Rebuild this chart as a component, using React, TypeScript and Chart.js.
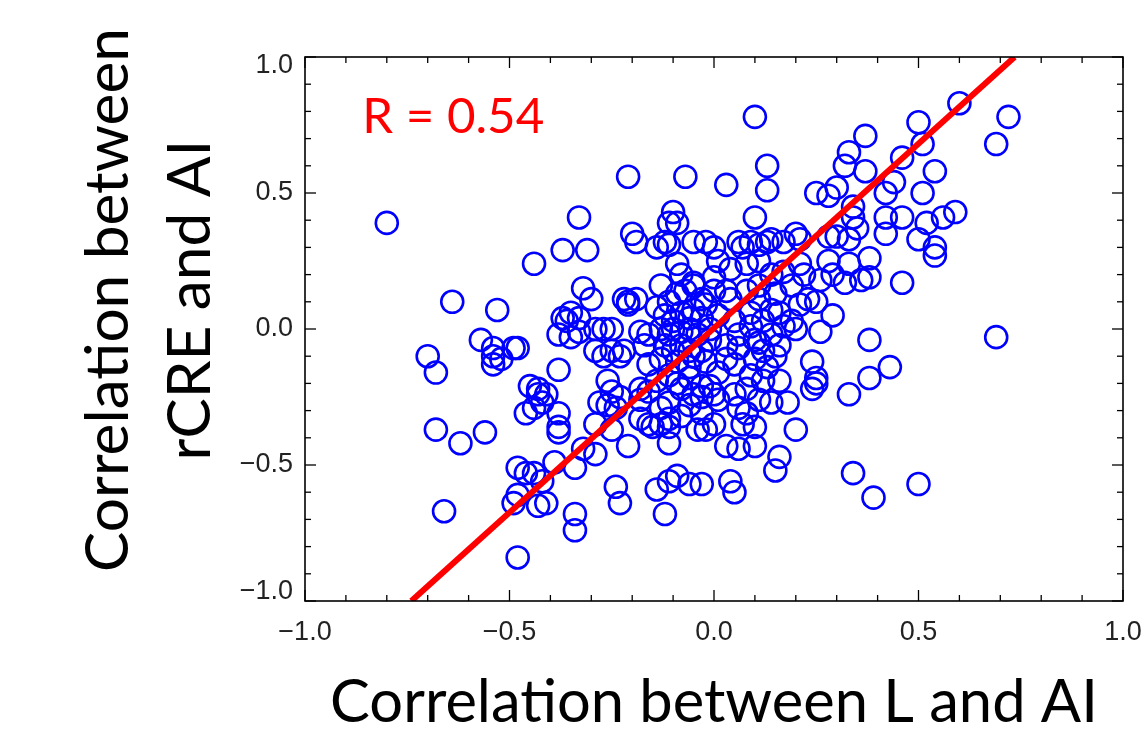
import React, { useEffect, useRef } from 'react';
import { Chart, registerables } from 'chart.js';

Chart.register(...registerables);

// ---- data ----
const xValues: number[] = [
  -0.80, -0.64, -0.53, -0.57, -0.54, -0.54, -0.54, -0.52, -0.49, -0.48,
  -0.70, -0.68, -0.45, -0.46, -0.44, -0.68, -0.62, -0.56, -0.48, -0.46,
  -0.48, -0.49, -0.66, -0.48, -0.44, -0.21, -0.07, -0.33, -0.10, -0.11,
  -0.09, -0.20, -0.19, -0.12, -0.14, -0.11, -0.37, -0.31, -0.05, -0.32,
  -0.30, -0.37, -0.35, -0.33, -0.36, -0.38, -0.35, -0.33, -0.22, -0.21,
  -0.19, -0.21, -0.29, -0.27, -0.25, -0.29, -0.27, -0.25, -0.23, -0.22,
  -0.18, -0.16, -0.17, -0.38, -0.43, -0.43, -0.41, -0.42, -0.38, -0.26,
  -0.25, -0.28, -0.26, -0.23, -0.24, -0.18, -0.16, -0.14, -0.14, -0.11,
  -0.09, -0.38, -0.38, -0.29, -0.25, -0.21, -0.18, -0.16, -0.15, -0.13,
  -0.11, -0.11, -0.11, -0.04, -0.32, -0.29, -0.39, -0.34, -0.44, -0.42,
  -0.43, -0.41, -0.34, -0.34, -0.24, -0.23, -0.14, -0.11, -0.09, -0.06,
  -0.12, -0.12, -0.10, -0.08, -0.06, -0.05, -0.13, -0.11, -0.10, -0.08,
  -0.06, -0.04, -0.12, -0.10, -0.08, -0.06, -0.05, -0.09, -0.06, -0.13,
  -0.16, -0.07, -0.05, -0.03, -0.13, -0.09, -0.08, -0.05, -0.13, -0.11,
  -0.18, -0.05, -0.08, -0.06, -0.03, -0.11, -0.09, 0.10, 0.13, 0.13,
  0.03, 0.10, 0.25, 0.28, 0.30, 0.33, 0.32, 0.37, 0.37, 0.34,
  0.34, 0.35, -0.02, 0.00, 0.06, 0.07, 0.09, 0.11, 0.13, 0.14,
  0.17, 0.20, 0.21, 0.28, 0.30, 0.33, 0.60, 0.72, 0.69, 0.50,
  0.51, 0.46, 0.54, 0.44, 0.51, 0.42, 0.42, 0.46, 0.52, 0.56,
  0.59, 0.42, 0.50, 0.54, 0.54, 0.38, 0.46, 0.38, 0.69, 0.38,
  0.43, 0.38, 0.50, 0.39, 0.36, 0.29, 0.20, 0.26, 0.24, 0.25,
  0.25, 0.24, 0.33, 0.18, 0.11, 0.14, 0.06, 0.08, 0.05, 0.08,
  0.00, -0.03, 0.32, 0.29, 0.23, 0.25, 0.33, 0.28, 0.21, 0.17,
  0.19, 0.14, 0.11, 0.08, 0.04, 0.01, 0.15, 0.11, 0.08, 0.04,
  0.00, -0.02, 0.01, 0.05, 0.09, 0.12, 0.16, 0.19, 0.14, 0.10,
  0.06, 0.03, -0.01, 0.12, 0.16, 0.10, 0.13, 0.09, 0.05, 0.01,
  -0.02, 0.12, 0.16, 0.11, 0.15, 0.06, 0.03, -0.03, -0.01, -0.03,
  0.00, 0.03, 0.11, 0.21, 0.22, 0.26, 0.14, 0.17, 0.09, 0.20,
  -0.02, 0.00, 0.03, 0.06, 0.07, 0.10, 0.10, 0.16, 0.15, 0.04,
  0.05, -0.03, 0.34, -0.06, -0.08, -0.03, 0.01, -0.01,
];

const yValues: number[] = [
  0.39, 0.10, 0.07, -0.04, -0.07, -0.10, -0.13, -0.11, -0.07, -0.07,
  -0.10, -0.16, -0.21, -0.31, -0.29, -0.37, -0.42, -0.38, -0.51, -0.53,
  -0.61, -0.64, -0.67, -0.84, 0.24, 0.56, 0.56, 0.41, 0.43, 0.39,
  0.39, 0.35, 0.32, 0.32, 0.30, 0.31, 0.29, 0.29, 0.32, 0.15,
  0.11, 0.04, 0.06, 0.04, 0.03, -0.02, -0.03, -0.01, 0.11, 0.10,
  0.11, 0.09, 0.00, 0.00, 0.00, -0.08, -0.10, -0.08, -0.10, -0.08,
  -0.01, -0.02, -0.06, -0.15, -0.22, -0.24, -0.24, -0.27, -0.31, -0.19,
  -0.23, -0.27, -0.28, -0.25, -0.29, -0.22, -0.23, -0.19, 0.08, 0.10,
  0.13, -0.38, -0.36, -0.35, -0.37, -0.43, -0.33, -0.35, -0.36, -0.35,
  -0.36, -0.33, -0.42, -0.37, -0.44, -0.46, -0.49, -0.51, -0.53, -0.56,
  -0.65, -0.64, -0.68, -0.74, -0.58, -0.64, -0.59, -0.56, -0.54, -0.57,
  -0.68, 0.05, 0.03, 0.06, 0.04, 0.07, 0.00, -0.02, 0.00, -0.01,
  0.00, -0.02, -0.06, -0.08, -0.06, -0.08, -0.10, -0.12, -0.14, -0.11,
  -0.13, 0.14, 0.16, 0.11, 0.16, 0.24, 0.20, 0.17, -0.29, -0.27,
  -0.26, -0.24, -0.22, -0.18, -0.21, -0.17, -0.20, 0.78, 0.60, 0.51,
  0.53, 0.41, 0.50, 0.49, 0.52, 0.65, 0.60, 0.71, 0.58, 0.45,
  0.41, 0.37, 0.32, 0.30, 0.32, 0.30, 0.32, 0.31, 0.32, 0.33,
  0.32, 0.35, 0.33, 0.34, 0.34, 0.33, 0.83, 0.78, 0.68, 0.76,
  0.68, 0.63, 0.58, 0.54, 0.50, 0.50, 0.41, 0.41, 0.39, 0.41,
  0.43, 0.35, 0.33, 0.30, 0.27, 0.26, 0.17, 0.19, -0.03, -0.04,
  -0.14, -0.18, -0.57, -0.62, 0.18, 0.05, 0.00, -0.01, -0.12, -0.18,
  -0.20, -0.22, -0.24, -0.27, -0.26, -0.27, -0.29, -0.31, -0.24, -0.22,
  -0.24, -0.25, 0.17, 0.20, 0.11, 0.10, 0.24, 0.25, 0.24, 0.21,
  0.16, 0.20, 0.25, 0.24, 0.22, 0.25, 0.13, 0.11, 0.14, 0.11,
  0.14, 0.09, 0.05, 0.03, 0.06, 0.03, 0.06, 0.03, -0.02, -0.04,
  -0.02, -0.06, -0.04, -0.08, -0.06, -0.11, -0.14, -0.17, -0.13, -0.16,
  -0.12, -0.19, -0.19, -0.05, -0.10, -0.07, -0.11, -0.08, 0.00, 0.04,
  0.19, 0.14, 0.16, 0.09, 0.20, 0.18, 0.07, 0.01, 0.01, -0.37,
  -0.37, -0.35, -0.43, -0.44, -0.35, -0.36, -0.43, -0.47, -0.52, -0.56,
  -0.60, -0.57, -0.53, -0.28, -0.32, -0.31, -0.26, -0.21,
];

const fitX: number[] = [-0.74, 0.735];
const fitY: number[] = [-1.0, 1.0];

const xTickValues: number[] = [-1.0, -0.5, 0.0, 0.5, 1.0];
const yTickValues: number[] = [-1.0, -0.5, 0.0, 0.5, 1.0];
const minorStep = 0.1;

const rLabel = 'R = 0.54';
const rLabelAt = { x: -0.86, y: 0.72 };
const xTitle = 'Correlation between L and AI';
const yTitle: string[] = ['Correlation between', 'rCRE and AI'];

const TITLE_FONT = 'Lato, "Open Sans", sans-serif';
const TICK_FONT = '"Liberation Sans", Arial, Helvetica, sans-serif';

function fmt(v: number): string {
  const s = v.toFixed(1);
  return s.startsWith('-') ? '\u2212' + s.slice(1) : s;
}

function fitFont(ctx: CanvasRenderingContext2D, text: string, targetW: number, family: string): number {
  ctx.font = `100px ${family}`;
  const w = ctx.measureText(text).width;
  return (100 * targetW) / w;
}

const overlayPlugin = {
  id: 'overlay',
  afterDraw(chart: any) {
    const ctx: CanvasRenderingContext2D = chart.ctx;
    const { left, right, top, bottom } = chart.chartArea;
    const xs = chart.scales.x;
    const ys = chart.scales.y;
    ctx.save();
    // tick marks (inward, all four sides)
    ctx.strokeStyle = '#000';
    ctx.lineWidth = 1.3;
    const seg = (x1: number, y1: number, x2: number, y2: number) => {
      ctx.beginPath();
      ctx.moveTo(x1, y1);
      ctx.lineTo(x2, y2);
      ctx.stroke();
    };
    const n = Math.round((xs.max - xs.min) / minorStep);
    for (let i = 0; i <= n; i++) {
      const v = xs.min + i * minorStep;
      const major = xTickValues.some((t) => Math.abs(t - v) < 1e-6);
      const len = major ? 11 : 6;
      const px = xs.getPixelForValue(v);
      seg(px, bottom, px, bottom - len);
      seg(px, top, px, top + len);
    }
    const m = Math.round((ys.max - ys.min) / minorStep);
    for (let i = 0; i <= m; i++) {
      const v = ys.min + i * minorStep;
      const major = yTickValues.some((t) => Math.abs(t - v) < 1e-6);
      const len = major ? 11 : 6;
      const py = ys.getPixelForValue(v);
      seg(left, py, left + len, py);
      seg(right, py, right - len, py);
    }
    // frame
    ctx.lineWidth = 1.6;
    ctx.strokeRect(left, top, right - left, bottom - top);

    // R label
    ctx.fillStyle = '#ff0000';
    const rs = fitFont(ctx, rLabel, 182, TITLE_FONT);
    ctx.font = `${rs}px ${TITLE_FONT}`;
    ctx.textAlign = 'left';
    ctx.textBaseline = 'alphabetic';
    ctx.fillText(rLabel, xs.getPixelForValue(rLabelAt.x), ys.getPixelForValue(rLabelAt.y));

    // x title
    ctx.fillStyle = '#000';
    const xsz = fitFont(ctx, xTitle, 768, TITLE_FONT);
    ctx.font = `${xsz}px ${TITLE_FONT}`;
    ctx.textAlign = 'center';
    ctx.fillText(xTitle, (left + right) / 2, 722);

    // y title (rotated)
    const ysz = fitFont(ctx, yTitle[0], 544, TITLE_FONT);
    ctx.font = `${ysz}px ${TITLE_FONT}`;
    ctx.save();
    ctx.translate(0, 300);
    ctx.rotate(-Math.PI / 2);
    ctx.textAlign = 'center';
    ctx.fillText(yTitle[0], 0, 128);
    ctx.fillText(yTitle[1], 0, 210);
    ctx.restore();

    ctx.restore();
  },
};

export default function App() {
  const ref = useRef<HTMLCanvasElement | null>(null);
  useEffect(() => {
    if (!ref.current) return;
    const points = xValues.map((x, i) => ({ x, y: yValues[i] }));
    const fit = fitX.map((x, i) => ({ x, y: fitY[i] }));
    const yMax = yTickValues[yTickValues.length - 1];
    const yMin = yTickValues[0];
    const chart = new Chart(ref.current, {
      type: 'scatter',
      data: {
        datasets: [
          {
            type: 'line',
            data: fit,
            borderColor: '#ff0000',
            borderWidth: 6,
            pointRadius: 0,
            fill: false,
          } as any,
          {
            data: points,
            pointStyle: 'circle',
            pointRadius: 11,
            pointHoverRadius: 11,
            borderColor: '#0000ff',
            backgroundColor: 'rgba(0,0,0,0)',
            borderWidth: 2.6,
          },
        ],
      },
      options: {
        animation: false,
        responsive: false,
        events: [],
        layout: { padding: { left: 0, right: 18, top: 57, bottom: 0 } },
        plugins: {
          legend: { display: false },
          tooltip: { enabled: false },
        },
        scales: {
          x: {
            type: 'linear',
            min: -1,
            max: 1,
            afterBuildTicks: (s: any) => {
              s.ticks = xTickValues.map((v) => ({ value: v }));
            },
            afterFit: (s: any) => {
              s.height = 132;
              s.paddingLeft = 0;
              s.paddingRight = 0;
            },
            grid: { display: false, drawTicks: false },
            border: { display: false },
            ticks: {
              padding: 15,
              color: '#222',
              font: { family: TICK_FONT, size: 27 },
              maxRotation: 0,
              autoSkip: false,
              callback: (v: any) => fmt(Number(v)),
            },
          },
          y: {
            type: 'linear',
            min: -1,
            max: 1,
            afterBuildTicks: (s: any) => {
              s.ticks = yTickValues.map((v) => ({ value: v }));
            },
            afterFit: (s: any) => {
              s.width = 305;
              s.paddingTop = 0;
              s.paddingBottom = 0;
            },
            grid: { display: false, drawTicks: false },
            border: { display: false },
            ticks: {
              padding: 12,
              color: '#222',
              autoSkip: false,
              font: { family: TICK_FONT, size: 27, lineHeight: '18px' },
              callback: (v: any) => {
                const n = Number(v);
                if (Math.abs(n - yMax) < 1e-9) return ['', fmt(n)];
                if (Math.abs(n - yMin) < 1e-9) return [fmt(n), ''];
                return fmt(n);
              },
            },
          },
        },
      },
      plugins: [overlayPlugin],
    } as any);
    return () => chart.destroy();
  }, []);
  return (
    <div style={{ position: 'fixed', left: 0, top: 0, width: 1141, height: 733, background: '#fff', overflow: 'hidden' }}>
      <canvas ref={ref} width={1141} height={733} style={{ display: 'block' }} />
    </div>
  );
}
